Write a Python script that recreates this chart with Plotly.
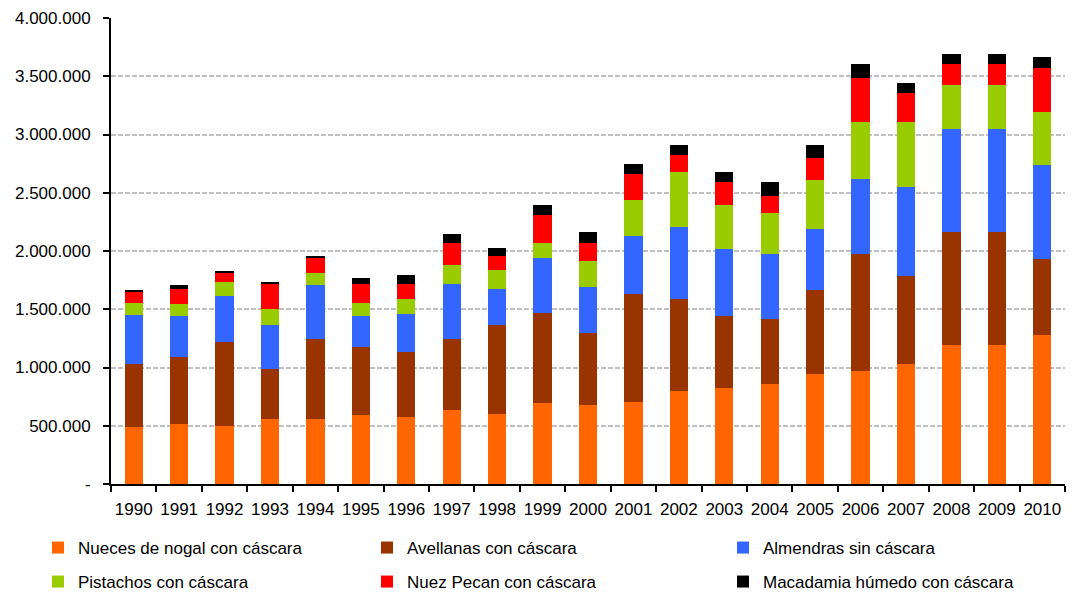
import plotly.graph_objects as go

# Years on the category axis
years = [str(y) for y in range(1990, 2011)]

# Production by nut type (stacked, bottom to top)
nueces_nogal = [490000, 515000, 501000, 558000, 558000, 593000, 576000, 636000, 604000, 696000,
                679000, 707000, 799000, 825000, 856000, 945000, 973000, 1034000, 1197000, 1197000, 1280000]
avellanas = [538000, 573000, 722000, 427000, 690000, 581000, 558000, 612000, 765000, 776000,
             615000, 925000, 788000, 618000, 559000, 719000, 1000000, 750000, 965000, 965000, 650000]
almendras = [426000, 352000, 395000, 384000, 456000, 266000, 321000, 473000, 309000, 472000,
             396000, 501000, 615000, 573000, 558000, 529000, 645000, 762000, 882000, 882000, 805000]
pistachos = [103000, 106000, 117000, 129000, 106000, 117000, 134000, 160000, 160000, 129000,
             223000, 309000, 475000, 383000, 355000, 413000, 486000, 558000, 384000, 384000, 455000]
nuez_pecan = [92000, 132000, 80000, 226000, 134000, 164000, 132000, 192000, 118000, 238000,
              160000, 221000, 149000, 190000, 143000, 189000, 384000, 252000, 177000, 177000, 384000]
macadamia = [12000, 29000, 9000, 9000, 12000, 46000, 74000, 75000, 74000, 86000,
             89000, 86000, 83000, 89000, 118000, 117000, 117000, 86000, 89000, 89000, 88000]

series_names = [
    "Nueces de nogal con cáscara",
    "Avellanas con cáscara",
    "Almendras sin cáscara",
    "Pistachos con cáscara",
    "Nuez Pecan con cáscara",
    "Macadamia húmedo con cáscara",
]
series_values = [nueces_nogal, avellanas, almendras, pistachos, nuez_pecan, macadamia]
series_colors = ["#FF6600", "#993300", "#3366FF", "#99CC00", "#FF0000", "#000000"]

y_tickvals = [0, 500000, 1000000, 1500000, 2000000, 2500000, 3000000, 3500000, 4000000]
y_ticktext = ["-", "500.000", "1.000.000", "1.500.000", "2.000.000",
              "2.500.000", "3.000.000", "3.500.000", "4.000.000"]

W, H = 1072, 594
FONT = "Liberation Sans, Arial, sans-serif"

# Legend entries laid out in a 3x2 grid (text start x, row centre y in pixels)
legend_spots = [(78, 548), (407, 548), (763, 548), (78, 582), (407, 582), (763, 582)]

fig = go.Figure()
for i, (name, vals, col) in enumerate(zip(series_names, series_values, series_colors)):
    fig.add_trace(go.Bar(
        x=years, y=vals, name=name,
        marker=dict(color=col, line=dict(width=0)),
        legend="legend" if i == 0 else f"legend{i + 1}",
    ))

layout_legends = {}
for i, (px, py) in enumerate(legend_spots):
    key = "legend" if i == 0 else f"legend{i + 1}"
    layout_legends[key] = dict(
        xref="container", yref="container",
        x=(px - 40) / W, y=1 - py / H,
        xanchor="left", yanchor="middle",
        bgcolor="rgba(0,0,0,0)", borderwidth=0,
        font=dict(family=FONT, size=17, color="#000000"),
        itemwidth=30, tracegroupgap=0,
    )

fig.update_layout(
    barmode="stack",
    bargap=0.6,
    width=W, height=H,
    margin=dict(l=111, r=7, t=18, b=110, autoexpand=False),
    paper_bgcolor="white", plot_bgcolor="white",
    font=dict(family=FONT, size=17, color="#000000"),
    showlegend=True,
    **layout_legends,
)

fig.update_xaxes(
    type="category",
    showline=True, linecolor="#000000", linewidth=2,
    ticks="outside", tickson="boundaries", ticklen=6, tickwidth=2, tickcolor="#000000",
    tickangle=0, ticklabelstandoff=9,
    showgrid=False,
    tickfont=dict(family=FONT, size=17, color="#000000"),
)
fig.update_yaxes(
    range=[0, 4000000],
    tickvals=y_tickvals, ticktext=y_ticktext,
    showline=True, linecolor="#000000", linewidth=2,
    ticks="outside", ticklen=6, tickwidth=2, tickcolor="#000000",
    ticklabelstandoff=9,
    showgrid=True, gridcolor="#C0C0C0", gridwidth=2, griddash="5px,2px",
    zeroline=False,
    tickfont=dict(family=FONT, size=17, color="#000000"),
)

fig.write_html("out.html")
